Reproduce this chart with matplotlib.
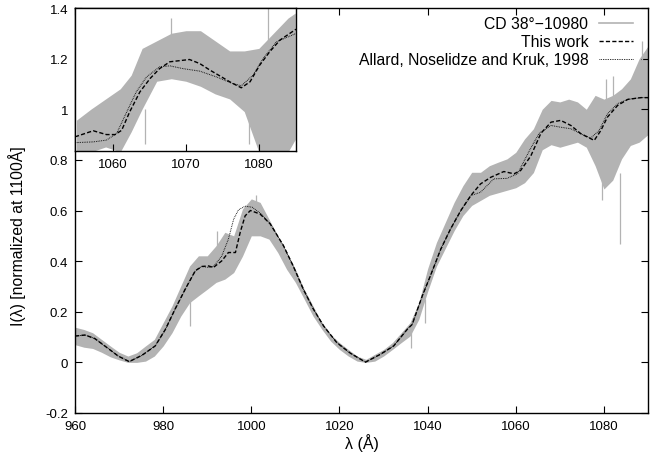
import matplotlib
matplotlib.use("Agg")
import matplotlib.pyplot as plt
from matplotlib.lines import Line2D

plt.rcParams['font.family'] = ['Liberation Sans', 'DejaVu Sans']
plt.rcParams['font.size'] = 9

# ========== DATA ==========
# observed spectrum, drawn as lower/upper envelope of the noise
obs_wl = [960, 962, 964, 966, 968, 970, 972, 974, 976, 978, 980, 982, 984, 986, 988,
          990, 992, 994, 996, 998, 1000, 1002, 1004, 1006, 1008, 1010, 1012, 1014,
          1016, 1018, 1020, 1022, 1024, 1026, 1028, 1030, 1032, 1034, 1036, 1038,
          1040, 1042, 1044, 1046, 1048, 1050, 1052, 1054, 1056, 1058, 1060, 1062,
          1064, 1066, 1068, 1070, 1072, 1074, 1076, 1078, 1080, 1082, 1084, 1086,
          1088, 1090]
obs_lo = [0.07, 0.06, 0.055, 0.04, 0.022, 0.01, 0.0, 0.0, 0.005, 0.025, 0.065, 0.117,
          0.183, 0.236, 0.263, 0.289, 0.316, 0.329, 0.355, 0.42, 0.5, 0.5, 0.487, 0.434,
          0.368, 0.316, 0.25, 0.183, 0.131, 0.084, 0.051, 0.025, 0.005, 0.0, 0.005,
          0.025, 0.051, 0.078, 0.104, 0.17, 0.28, 0.38, 0.45, 0.52, 0.58, 0.62,
          0.64, 0.66, 0.67, 0.68, 0.69, 0.71, 0.75, 0.84, 0.86, 0.85, 0.86,
          0.87, 0.85, 0.777, 0.685, 0.72, 0.804, 0.857, 0.87, 0.9]
obs_hi = [0.139, 0.13, 0.117, 0.091, 0.065, 0.04, 0.025, 0.038, 0.065, 0.091, 0.157,
          0.223, 0.302, 0.381, 0.421, 0.421, 0.461, 0.514, 0.5, 0.606, 0.646, 0.632,
          0.566, 0.5, 0.434, 0.368, 0.289, 0.223, 0.157, 0.111, 0.078, 0.051, 0.025,
          0.012, 0.032, 0.051, 0.078, 0.117, 0.157, 0.236, 0.37, 0.474, 0.553, 0.632,
          0.698, 0.751, 0.751, 0.777, 0.791, 0.804, 0.83, 0.883, 0.923, 1.0, 1.035,
          1.029, 1.04, 1.029, 1.0, 1.055, 1.04, 1.055, 1.081, 1.12, 1.2, 1.25]
# single noise spikes: wavelength, from, to
spike_wl = [986.1, 992.2, 1001.0, 1036.2, 1039.3, 1080.4, 1083.6, 1082.0, 1088.6, 1079.5]
spike_from = [0.25, 0.45, 0.6, 0.12, 0.25, 1.0, 0.75, 1.0, 1.15, 0.75]
spike_to = [0.144, 0.52, 0.66, 0.055, 0.154, 1.12, 0.467, 1.13, 1.27, 0.64]

# This work
model_wl = [960, 962.3, 964.5, 967.6, 969.8, 972.3, 975.2, 978.2, 980.5, 982.7, 985,
            987.3, 988.8, 990.3, 991.4, 993.3, 994.8, 996.4, 997.5, 998.6, 999.8, 1002,
            1004.3, 1007.3, 1009.5, 1011.8, 1014.1, 1016.4, 1019.4, 1022.5, 1025.9,
            1029.3, 1032.3, 1035.4, 1036.5, 1038.8, 1040.7, 1043, 1045.2, 1047.5,
            1049.8, 1052, 1054.3, 1057.3, 1059.6, 1061.1, 1063.4, 1065.7, 1068, 1070.2,
            1072.5, 1074.8, 1077.8, 1079.3, 1080.8, 1083.1, 1085.4, 1088.4, 1090]
model_val = [0.104, 0.108, 0.094, 0.054, 0.025, 0.003, 0.028, 0.065, 0.13, 0.21, 0.289,
             0.362, 0.379, 0.381, 0.375, 0.401, 0.434, 0.434, 0.515, 0.579, 0.6, 0.586,
             0.547, 0.461, 0.381, 0.289, 0.21, 0.144, 0.078, 0.036, 0.001, 0.032, 0.065,
             0.131, 0.15, 0.263, 0.345, 0.448, 0.527, 0.599, 0.659, 0.705, 0.731, 0.754,
             0.745, 0.758, 0.815, 0.905, 0.949, 0.956, 0.936, 0.903, 0.877, 0.916, 0.969,
             1.015, 1.039, 1.046, 1.046]

# Allard, Noselidze and Kruk, 1998
allard_wl = [960, 962.3, 964.5, 967.6, 969.8, 972.3, 975.2, 978.2, 980.5, 982.7, 985,
             987.3, 988.8, 990.3, 991.4, 993.3, 994.8, 996, 997.1, 998.6, 1000.2, 1002,
             1004.3, 1007.3, 1009.5, 1011.8, 1014.1, 1016.4, 1019.4, 1022.5, 1025.9,
             1029.3, 1032.3, 1035.4, 1036.5, 1038.8, 1040.7, 1043, 1045.2, 1047.5,
             1049.8, 1052, 1055, 1058, 1060.4, 1063.2, 1065.3, 1068, 1070.2, 1072.5,
             1074.8, 1077, 1078.9, 1080.8, 1083.1, 1085.4, 1088.4, 1090]
allard_val = [0.104, 0.108, 0.094, 0.054, 0.025, 0.003, 0.028, 0.065, 0.13, 0.21, 0.289,
              0.362, 0.379, 0.375, 0.378, 0.42, 0.487, 0.566, 0.603, 0.617, 0.613, 0.59,
              0.547, 0.461, 0.381, 0.289, 0.21, 0.144, 0.078, 0.036, 0.001, 0.032, 0.065,
              0.131, 0.15, 0.263, 0.345, 0.448, 0.527, 0.599, 0.659, 0.672, 0.725, 0.727,
              0.745, 0.84, 0.905, 0.936, 0.929, 0.923, 0.903, 0.886, 0.916, 0.982, 1.022,
              1.039, 1.046, 1.046]

# inset (own vertical scale)
ins_obs_wl = [1055, 1057, 1059, 1061, 1062.5, 1064, 1066, 1068, 1070, 1072, 1074, 1076,
              1078, 1080, 1082, 1084, 1085]
ins_obs_lo = [0.83, 0.83, 0.85, 0.83, 0.91, 1.0, 1.11, 1.12, 1.11, 1.09, 1.06, 1.04,
              0.99, 0.83, 0.83, 0.83, 0.88]
ins_obs_hi = [0.956, 1.0, 1.04, 1.08, 1.134, 1.24, 1.27, 1.30, 1.31, 1.31, 1.27, 1.23,
              1.23, 1.24, 1.3, 1.36, 1.38]
ins_spike_wl = [1064.4, 1068.0, 1078.7, 1081.2]
ins_spike_from = [1.0, 1.25, 1.0, 1.2]
ins_spike_to = [0.86, 1.36, 0.86, 1.40]

ins_model_wl = [1054.8, 1057.3, 1059.1, 1060.3, 1061.2, 1062.3, 1063.7, 1065.1, 1066.4,
                1067.8, 1069.6, 1070.5, 1071.9, 1073.3, 1074.9, 1076, 1077.6, 1078.8,
                1080.1, 1081.5, 1082.9, 1085.1]
ins_model_val = [0.89, 0.914, 0.899, 0.899, 0.916, 0.989, 1.068, 1.121, 1.16, 1.187,
                 1.193, 1.196, 1.18, 1.154, 1.127, 1.108, 1.084, 1.108, 1.173, 1.227,
                 1.273, 1.316]
ins_allard_wl = [1054.8, 1057.3, 1059.1, 1060.5, 1061.9, 1063.2, 1064.6, 1066.4, 1067.8,
                 1069.6, 1071.9, 1074.2, 1076.4, 1077.6, 1079.2, 1080.6, 1082.4, 1085.1]
ins_allard_val = [0.867, 0.87, 0.877, 0.903, 0.989, 1.068, 1.127, 1.167, 1.171, 1.16,
                  1.15, 1.127, 1.101, 1.092, 1.134, 1.2, 1.266, 1.299]

gray = '#b3b3b3'
dash = (0, (3.0, 1.6))
dot = (0, (0.8, 1.0))

# ========== MAIN PLOT ==========
fig = plt.figure(figsize=(6.59, 4.6), dpi=100)
ax = fig.add_axes([0.1138, 0.1, 0.8695, 0.8804])

ax.fill_between(obs_wl, obs_lo, obs_hi, color=gray, linewidth=0)
ax.vlines(spike_wl, spike_from, spike_to, color=gray, linewidth=0.9)
ax.plot(model_wl, model_val, color='black', linestyle=dash, linewidth=1.0)
ax.plot(allard_wl, allard_val, color='black', linestyle=dot, linewidth=0.7)

ax.set_xlim(960, 1090)
ax.set_ylim(-0.2, 1.4)
ax.set_xticks([960, 980, 1000, 1020, 1040, 1060, 1080])
yt = [-0.2, 0, 0.2, 0.4, 0.6, 0.8, 1.0, 1.2, 1.4]
ax.set_yticks(yt)
ax.set_yticklabels(['-0.2', '0', '0.2', '0.4', '0.6', '0.8', '1', '1.2', '1.4'])
ax.tick_params(direction='in', top=True, right=True, length=5, width=0.8, labelsize=9.5, pad=5)
for s in ax.spines.values():
    s.set_linewidth(1.0)
ax.set_xlabel("λ (Å)", fontsize=11.5, labelpad=1)
ax.set_ylabel("I(λ) [normalized at 1100Å]", fontsize=11.3)
ax.yaxis.set_label_coords(-0.086, 0.44)

handles = [Line2D([], [], color=gray, linewidth=1.2),
           Line2D([], [], color='black', linestyle=dash, linewidth=1.0),
           Line2D([], [], color='black', linestyle=dot, linewidth=0.7)]
labels = ["CD 38°−10980", "This work", "Allard, Noselidze and Kruk, 1998"]
ax.legend(handles, labels, loc='upper right', bbox_to_anchor=(0.974, 0.98),
          frameon=False, markerfirst=False, borderpad=0, borderaxespad=0,
          handlelength=2.2, handletextpad=0.65, labelspacing=0.2, fontsize=11.3)

# ========== INSET ==========
ins = fig.add_axes([0.1138, 0.6696, 0.3354, 0.3109])
ins.fill_between(ins_obs_wl, ins_obs_lo, ins_obs_hi, color=gray, linewidth=0)
ins.vlines(ins_spike_wl, ins_spike_from, ins_spike_to, color=gray, linewidth=0.9)
ins.plot(ins_model_wl, ins_model_val, color='black', linestyle=dash, linewidth=1.0)
ins.plot(ins_allard_wl, ins_allard_val, color='black', linestyle=dot, linewidth=0.7)
ins.set_xlim(1054.8, 1085.1)
ins.set_ylim(0.834, 1.4)
ins.set_xticks([1060, 1070, 1080])
ins.set_yticks([])
ins.tick_params(direction='in', length=5, width=0.8, labelsize=9.5, pad=5)
for s in ins.spines.values():
    s.set_linewidth(1.0)

fig.savefig("out.png", dpi=100)
plt.close(fig)
print("[INFO] Saved out.png")
